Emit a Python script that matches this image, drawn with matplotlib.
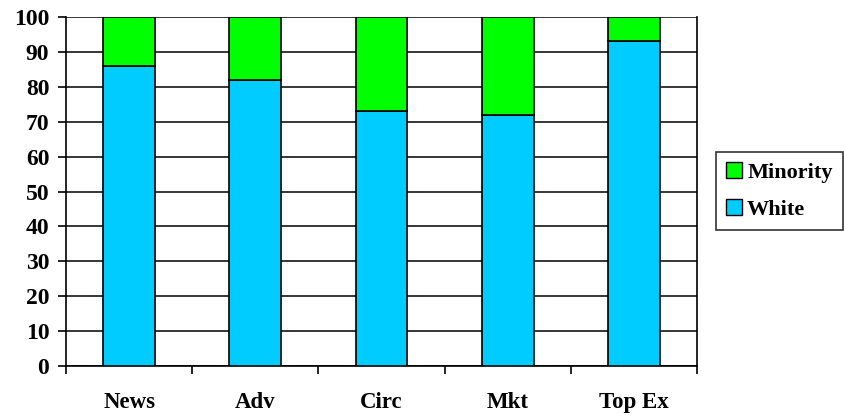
import numpy as np
import matplotlib.pyplot as plt
from matplotlib.patches import Patch

# data
categories = ["News", "Adv", "Circ", "Mkt", "Top Ex"]
white = [86, 82, 73, 72, 93]
minority = [14, 18, 27, 28, 7]

WHITE_C = "#00CCFF"
MINOR_C = "#00FF00"

plt.rcParams["font.family"] = ["Liberation Serif", "DejaVu Serif"]
plt.rcParams["font.weight"] = "bold"

fig = plt.figure(figsize=(8.45, 4.19), dpi=100)
ax = fig.add_axes([66 / 845, 1 - 366 / 419, (697 - 66) / 845, (366 - 17) / 419])

x = np.arange(len(categories))
w = 0.41
ax.bar(x, white, w, color=WHITE_C, edgecolor="black", linewidth=1.2, zorder=3)
ax.bar(x, minority, w, bottom=white, color=MINOR_C, edgecolor="black", linewidth=1.2, zorder=3)

ax.set_xlim(-0.5, len(categories) - 0.5)
ax.set_ylim(0, 100)
ax.set_yticks(range(0, 101, 10))
ax.yaxis.grid(True, color="black", linewidth=1.1, zorder=0)
ax.set_axisbelow(True)

# tick marks on category boundaries, labels at the centres
ax.set_xticks(np.arange(-0.5, len(categories)), minor=False)
ax.set_xticklabels([""] * (len(categories) + 1))
ax.set_xticks(x, minor=True)
ax.set_xticklabels(categories, minor=True, fontsize=16.5, fontweight="bold")
ax.tick_params(axis="x", which="minor", length=0, pad=19)
ax.tick_params(axis="x", which="major", length=6, width=1.2, direction="out")
ax.tick_params(axis="y", length=6, width=1.2, labelsize=17, pad=6)
for lab in ax.get_yticklabels():
    lab.set_fontweight("bold")

for s in ["left", "bottom", "right"]:
    ax.spines[s].set_linewidth(1.2)
ax.spines["top"].set_visible(False)

handles = [Patch(facecolor=MINOR_C, edgecolor="black"),
           Patch(facecolor=WHITE_C, edgecolor="black")]
leg = fig.legend(handles, ["Minority", "White"], loc="upper left",
                 bbox_to_anchor=(716 / 845, 1 - 152 / 419),
                 fontsize=16, frameon=True, fancybox=False,
                 handlelength=0.7, handleheight=0.7, handletextpad=0.25,
                 borderpad=0.45, labelspacing=0.75, borderaxespad=0)
leg.get_frame().set_edgecolor("black")
leg.get_frame().set_linewidth(1.2)
for t in leg.get_texts():
    t.set_fontweight("bold")

fig.savefig("out.png", dpi=100)
